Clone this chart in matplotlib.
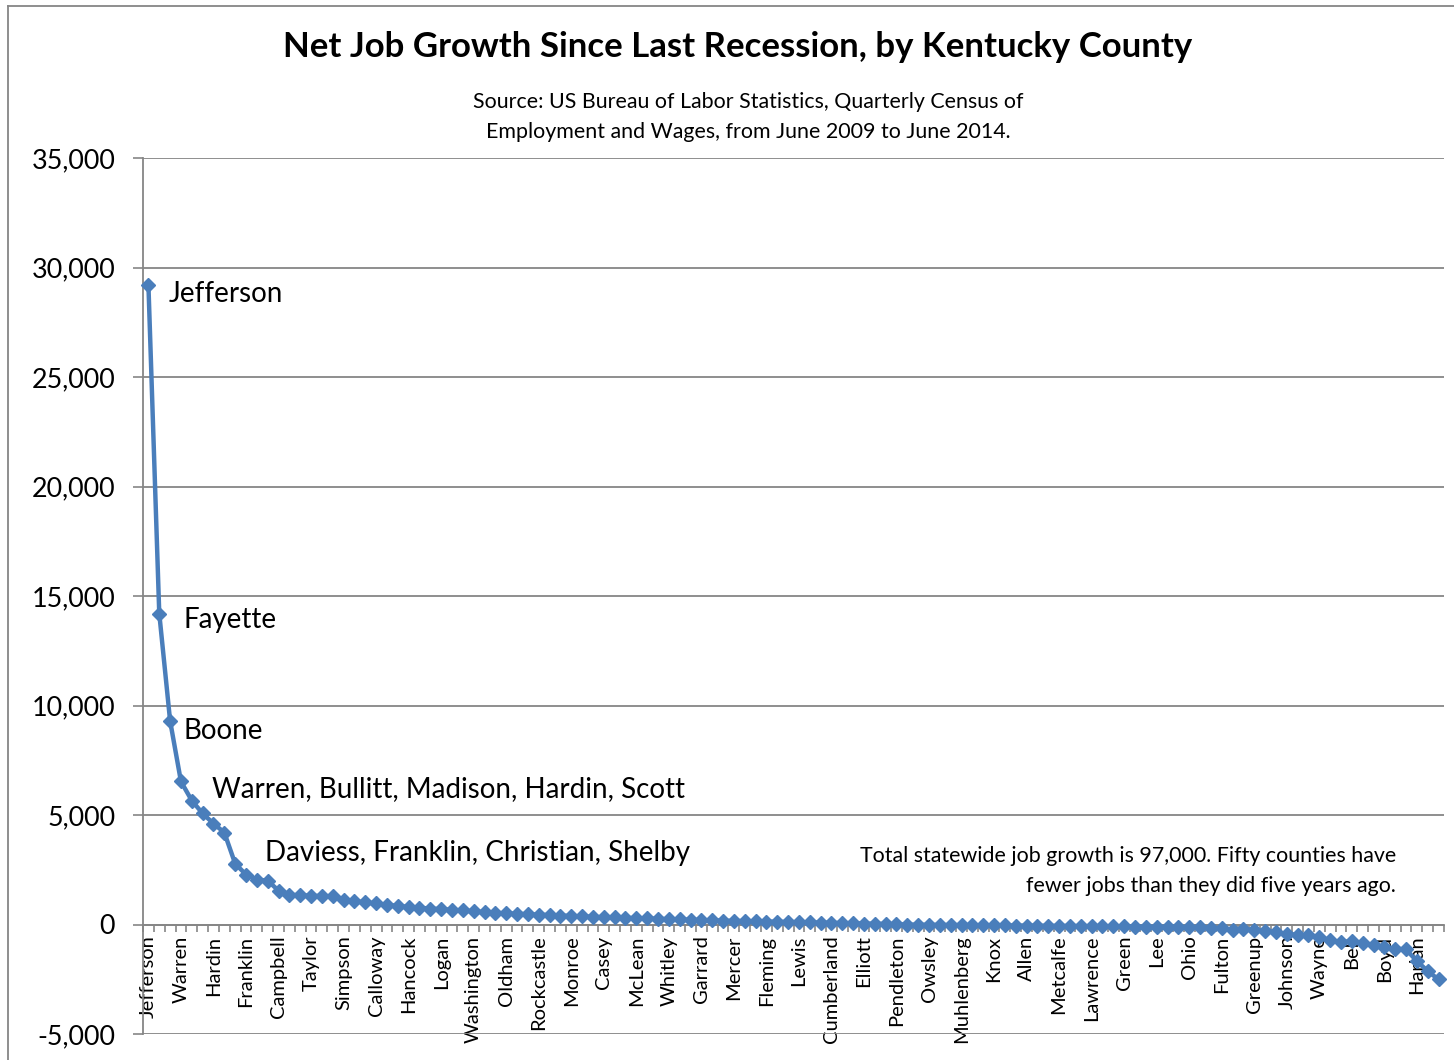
import numpy as np
import matplotlib.pyplot as plt
from matplotlib.ticker import FuncFormatter, FixedLocator
from matplotlib.lines import Line2D

plt.rcParams['font.family'] = ['Lato', 'DejaVu Sans']

# net jobs gained Jun 2009 - Jun 2014, counties sorted high to low
job_growth = [
    29200, 14200, 9300, 6530, 5660, 5070, 4610, 4200, 2780, 2280,
    2050, 2000, 1550, 1350, 1340, 1310, 1300, 1290, 1130, 1060,
    1010, 960, 900, 850, 800, 760, 730, 700, 670, 640,
    600, 560, 530, 510, 490, 470, 450, 430, 410, 390,
    370, 350, 335, 320, 305, 290, 275, 260, 245, 230,
    215, 200, 190, 175, 165, 155, 145, 135, 125, 115,
    105, 95, 85, 75, 65, 55, 45, 35, 25, 12,
    -5, -10, -15, -20, -25, -28, -32, -36, -40, -44,
    -48, -52, -56, -60, -64, -68, -72, -76, -80, -85,
    -90, -95, -100, -105, -110, -118, -125, -135, -150, -180,
    -230, -220, -260, -300, -350, -450, -460, -500, -580, -720,
    -810, -760, -840, -940, -1040, -1100, -1140, -1670, -2130, -2510,
]

# only every third county is labelled on the axis
tick_labels = [
    'Jefferson', 'Warren', 'Hardin', 'Franklin', 'Campbell', 'Taylor',
    'Simpson', 'Calloway', 'Hancock', 'Logan', 'Washington', 'Oldham',
    'Rockcastle', 'Monroe', 'Casey', 'McLean', 'Whitley', 'Garrard',
    'Mercer', 'Fleming', 'Lewis', 'Cumberland', 'Elliott', 'Pendleton',
    'Owsley', 'Muhlenberg', 'Knox', 'Allen', 'Metcalfe', 'Lawrence',
    'Green', 'Lee', 'Ohio', 'Fulton', 'Greenup', 'Johnson', 'Wayne',
    'Bell', 'Boyd', 'Harlan',
]
label_step = 3

y_ticks = [-5000, 0, 5000, 10000, 15000, 20000, 25000, 30000, 35000]

GRID = '#868686'
BLUE = '#4A7EBB'

fig = plt.figure(figsize=(14.54, 10.6), dpi=100)
ax = fig.add_axes([143 / 1454, 1 - 1034 / 1060, 1301 / 1454, 876 / 1060])

x = np.arange(len(job_growth))
ax.plot(x, job_growth, color=BLUE, lw=3.2, marker='D', ms=7.6,
        mec=BLUE, mfc=BLUE, zorder=4, clip_on=False)

ax.set_xlim(-0.5, len(job_growth) - 0.5)
ax.set_ylim(y_ticks[0], y_ticks[-1])

# y axis
ax.set_yticks(y_ticks)
ax.yaxis.set_major_formatter(FuncFormatter(lambda v, p: f'{int(v):,}'))
ax.tick_params(axis='y', direction='out', length=7, width=1.2, color=GRID,
               labelsize=19.4, pad=13)
ax.yaxis.grid(True, color=GRID, lw=1.3)
ax.set_axisbelow(True)

# x axis sits at zero
ax.spines['bottom'].set_position(('data', 0))
ax.spines['bottom'].set_color(GRID)
ax.spines['bottom'].set_linewidth(1.3)
ax.spines['left'].set_color(GRID)
ax.spines['left'].set_linewidth(1.3)
ax.spines['top'].set_visible(False)
ax.spines['right'].set_visible(False)

ax.set_xticks(x[::label_step])
ax.set_xticklabels(tick_labels, rotation=90, fontsize=14.5, va='top')
ax.tick_params(axis='x', which='major', length=0, pad=8)
ax.xaxis.set_minor_locator(FixedLocator(np.arange(len(job_growth) + 1) - 0.5))
ax.tick_params(axis='x', which='minor', direction='out', length=5,
               width=1.2, color=GRID)

# callouts
ann = dict(transform=ax.transAxes, fontsize=20, va='center', ha='left')
ax.text(0.0200, 0.8447, 'Jefferson', **ann)
ax.text(0.0315, 0.4726, 'Fayette', **ann)
ax.text(0.0315, 0.3459, 'Boone', **ann)
ax.text(0.0530, 0.2797, 'Warren, Bullitt, Madison, Hardin, Scott', **ann)
ax.text(0.0938, 0.2066, 'Daviess, Franklin, Christian, Shelby', **ann)
ax.text(0.9631, 0.1861,
        'Total statewide job growth is 97,000. Fifty counties have\n'
        'fewer jobs than they did five years ago.',
        transform=ax.transAxes, fontsize=15.4, va='center', ha='right',
        multialignment='right', linespacing=1.6)

fig.text(0.5076, 0.9557, 'Net Job Growth Since Last Recession, by Kentucky County',
         ha='center', va='center', fontsize=25, fontweight='bold')
fig.text(0.5144, 0.8896,
         'Source: US Bureau of Labor Statistics, Quarterly Census of\n'
         'Employment and Wages, from June 2009 to June 2014.',
         ha='center', va='center', fontsize=15.4, linespacing=1.6)

# chart frame (left and top edges are all that show)
fig.add_artist(Line2D([8 / 1454, 8 / 1454], [0, 1 - 6 / 1060],
                      transform=fig.transFigure, color=GRID, lw=1.3))
fig.add_artist(Line2D([8 / 1454, 1], [1 - 6 / 1060, 1 - 6 / 1060],
                      transform=fig.transFigure, color=GRID, lw=1.3))

fig.savefig('out.png', dpi=100)
